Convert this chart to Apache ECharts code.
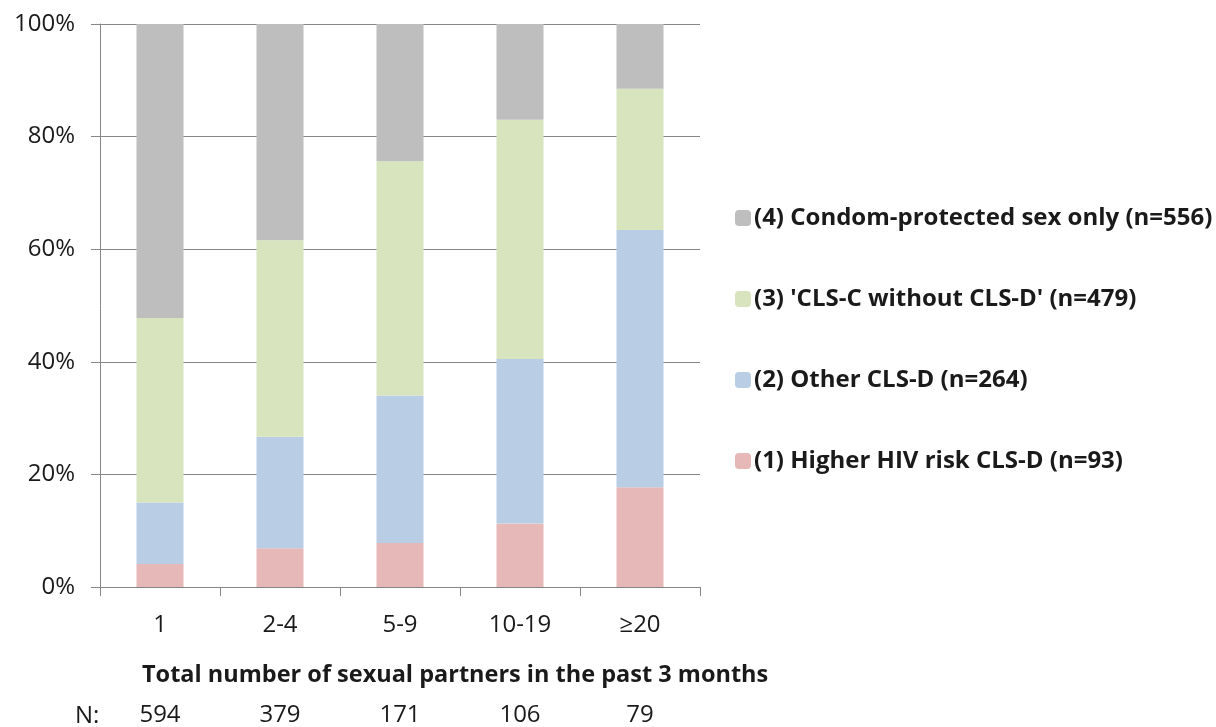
<!DOCTYPE html>
<html>
<head>
<meta charset="utf-8">
<script src="https://cdn.jsdelivr.net/npm/echarts@6/dist/echarts.min.js"></script>
<style>
html,body{margin:0;padding:0;background:#fff;}
#chart{width:1216px;height:727px;}
</style>
</head>
<body>
<div id="chart"></div>
<script>
const categories = ['1', '2-4', '5-9', '10-19', '≥20'];
const sampleSizes = ['594', '379', '171', '106', '79'];
const seriesNames = [
  '(1) Higher HIV risk CLS-D (n=93)',
  '(2) Other CLS-D (n=264)',
  "(3) 'CLS-C without CLS-D' (n=479)",
  '(4) Condom-protected sex only (n=556)'
];
const higherRisk = [4.1, 6.9, 7.8, 11.3, 17.7];
const otherClsD = [10.9, 19.8, 26.2, 29.2, 45.7];
const clsCOnly = [32.8, 34.9, 41.6, 42.5, 25.1];
const condomOnly = [52.2, 38.4, 24.4, 17.0, 11.5];
const colors = ['#E6B9B8', '#B9CDE5', '#D7E4BD', '#BEBEBE'];
const xTitle = 'Total number of sexual partners in the past 3 months';

const FONT = 'Open Sans';
const TXT = '#1a1a1a';
const chart = echarts.init(document.getElementById('chart'));
const values = [higherRisk, otherClsD, clsCOnly, condomOnly];
const option = {
  animation: false,
  backgroundColor: '#fff',
  textStyle: { fontFamily: FONT },
  grid: { left: 100, right: 516, top: 24, bottom: 138, containLabel: false },
  legend: {
    orient: 'vertical',
    left: 730,
    top: 201,
    itemGap: 57,
    itemWidth: 16,
    itemHeight: 16,
    data: seriesNames.slice().reverse(),
    textStyle: { fontFamily: FONT, fontSize: 24, fontWeight: 'bold', color: TXT, lineHeight: 24, padding: [0, 0, 0, -2] }
  },
  xAxis: [
    {
      type: 'category',
      data: categories,
      position: 'bottom',
      axisLine: { show: true, lineStyle: { color: '#868686', width: 1 } },
      axisTick: { show: true, length: 9, lineStyle: { color: '#868686' } },
      axisLabel: { fontFamily: FONT, fontSize: 24, color: TXT, margin: 26 },
      splitLine: { show: false }
    },
    {
      type: 'category',
      data: sampleSizes,
      position: 'bottom',
      offset: 0,
      axisLine: { show: false },
      axisTick: { show: false },
      axisLabel: { fontFamily: FONT, fontSize: 24, color: TXT, margin: 116 },
      splitLine: { show: false }
    }
  ],
  yAxis: {
    type: 'value',
    min: 0,
    max: 100,
    interval: 20,
    axisLine: { show: true, lineStyle: { color: '#868686', width: 1 } },
    axisTick: { show: true, length: 9, lineStyle: { color: '#868686' } },
    axisLabel: { fontFamily: FONT, fontSize: 24, color: TXT, margin: 25, formatter: '{value}%' },
    splitLine: { show: true, lineStyle: { color: '#868686', width: 1 } }
  },
  series: seriesNames.map((name, i) => ({
    name: name,
    type: 'bar',
    stack: 'total',
    barWidth: 47,
    data: values[i],
    itemStyle: { color: colors[i] },
    emphasis: { disabled: true }
  })),
  graphic: [
    {
      type: 'text',
      x: 142,
      y: 675,
      style: { text: xTitle, fontFamily: FONT, fontSize: 23.5, fontWeight: 'bold', fill: TXT, align: 'left', verticalAlign: 'middle' }
    },
    {
      type: 'text',
      x: 75,
      y: 716,
      style: { text: 'N:', fontFamily: FONT, fontSize: 24, fill: TXT, align: 'left', verticalAlign: 'middle' }
    }
  ]
};
chart.setOption(option);
</script>
</body>
</html>
